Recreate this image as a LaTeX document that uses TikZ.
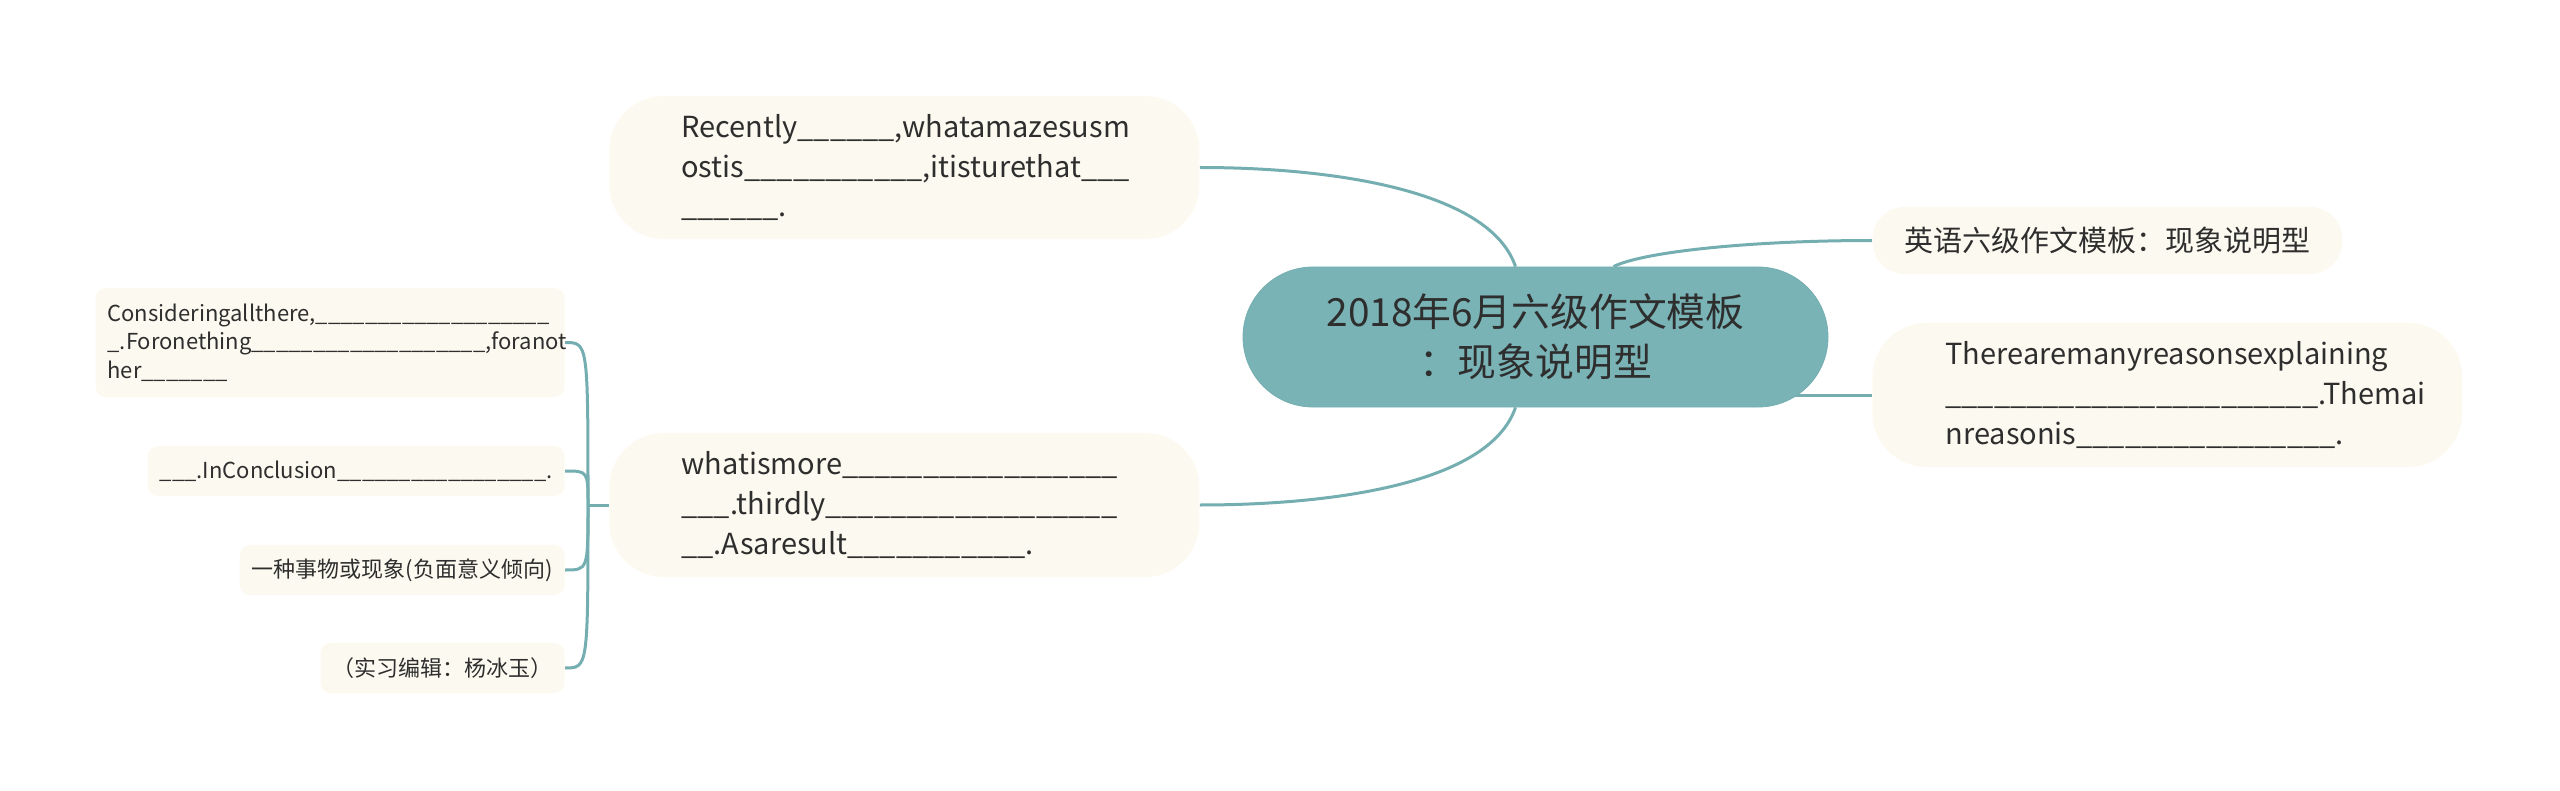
\documentclass[tikz,border=0pt]{standalone}
\usepackage{fontspec}
\newfontfamily\cjk{Noto Sans CJK SC}
\definecolor{titlefill}{HTML}{7AB3B5}
\definecolor{tealline}{HTML}{74AEB0}
\definecolor{cream}{HTML}{FCFAF0}
\definecolor{ink}{HTML}{2E2E2E}
\pgfdeclarelayer{bg}
\pgfsetlayers{bg,main}
\newcommand{\blanks}[1]{\foreach \blankidx in {1,...,#1}{\_}}

\begin{document}
\begin{tikzpicture}[x=0.5pt,y=-0.5pt]
\tikzstyle{every node}=[font=\cjk, text=ink]
\tikzstyle{topic}=[fill=cream, anchor=west, align=left, rounded corners=27pt, font=\cjk\fontsize{14.5}{19.8}\selectfont]
\tikzstyle{leaf}=[fill=cream, anchor=east, align=left, rounded corners=5pt, inner xsep=6pt, minimum height=25pt, font=\cjk\fontsize{11}{14.3}\selectfont]
\tikzstyle{branch}=[draw=tealline, line width=1.5pt]
\useasboundingbox (0,0) rectangle (2560,791);

\node[fill=titlefill, draw=tealline, rounded corners=35pt, minimum width=292.5pt, minimum height=70pt, align=center,
font=\cjk\fontsize{19.4}{25}\selectfont] (title) at (1535.5,337) {2018年6月六级作文模板\\：现象说明型};

\node[topic, text width=223pt, inner xsep=36pt, minimum height=71.5pt] (recent) at (609,167.5)
{Recently\blanks{6},whatamazesusm\\ostis\blanks{11},itisturethat\blanks{3}\\\blanks{6}.};
\node[topic, text width=223pt, inner xsep=36pt, minimum height=72pt] (more) at (609,505)
{whatismore\blanks{17}\\\blanks{3}.thirdly\blanks{18}\\\blanks{2}.Asaresult\blanks{11}.};
\node[topic, inner xsep=16pt, minimum height=33.5pt, rounded corners=16pt] (eng) at (1872,240.5)
{英语六级作文模板：现象说明型};
\node[topic, text width=222pt, inner xsep=36.5pt, minimum height=72pt] (reasons) at (1872,395)
{Therearemanyreasonsexplaining\\\blanks{23}.Themai\\nreasonis\blanks{16}.};

\node[leaf, text width=222.5pt, minimum height=54.5pt] (consider) at (565,342.5)
{Consideringallthere,\blanks{19}\\\_.Foronething\blanks{19},foranot\\her\blanks{7}};
\node[leaf] (concl) at (565,471) {\blanks{3}.InConclusion\blanks{17}.};
\node[leaf] (thing) at (565,570) {一种事物或现象(负面意义倾向)};
\node[leaf] (editor) at (565,668) {（实习编辑：杨冰玉）};

\coordinate (fork) at (588,505);

\begin{pgfonlayer}{bg}
\draw[branch] ([xshift=-10pt]title.north) .. controls +(-26,-77) and +(131,0) .. (recent.east);
\draw[branch] ([xshift=-10pt]title.south) .. controls +(-26,77) and +(131,0) .. (more.east);
\draw[branch] ([xshift=39pt]title.north) .. controls +(30,-15) and +(-120,0) .. (eng.west);
\draw[branch] (title.center |- reasons.west) -- (reasons.west);
\draw[branch] (more.west) -- (fork);
\foreach \n in {consider,concl,thing,editor}
  \draw[branch] (fork) .. controls (fork |- \n.east) and (fork |- \n.east) .. (\n.east);
\end{pgfonlayer}

\end{tikzpicture}
\end{document}
